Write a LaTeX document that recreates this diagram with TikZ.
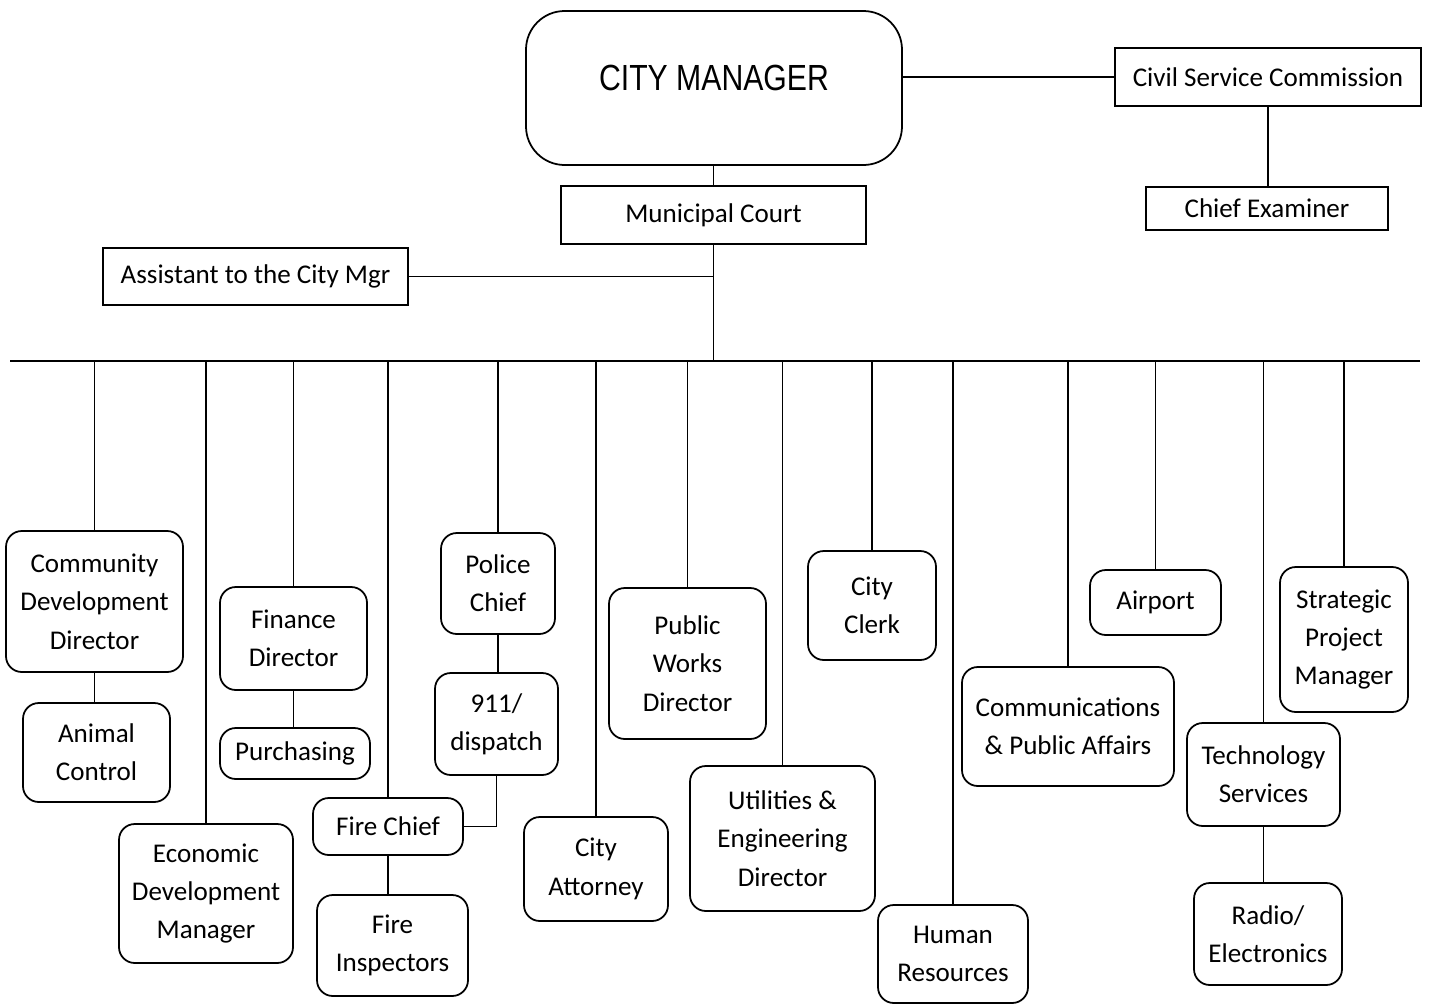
\documentclass[tikz,border=0pt]{standalone}
\usepackage{fontspec}
\setmainfont{Carlito}
\newfontfamily\headfont[FakeStretch=0.83]{Liberation Sans}

\tikzset{
  boxw/.style={minimum width=#1*0.02cm},
  boxh/.style={minimum height=#1*0.02cm},
  plain/.style={draw, align=center, inner sep=2pt, font=\fontsize{15.4}{21.8}\selectfont},
  office/.style={plain, rounded corners=9pt},
  head/.style={draw, rounded corners=22pt, inner sep=2pt, font=\headfont\fontsize{20.7}{24}\selectfont}
}

\begin{document}
\begin{tikzpicture}[x=0.02cm, y=-0.02cm, line width=1pt]
\useasboundingbox (0,0) rectangle (1431,1005);

% top of the chart
\node[head, boxw=376, boxh=154] (cm) at (714,88) {\raisebox{0.4cm}{CITY MANAGER}};
\node[plain, boxw=305, boxh=58] (court) at (713.5,215) {Municipal Court};
\node[plain, boxw=306, boxh=58] (csc) at (1268,77) {Civil Service Commission};
\node[plain, boxw=242, boxh=43] (examiner) at (1267,208.5) {Chief Examiner};
\node[plain, boxw=305, boxh=57] (asst) at (255.5,276.5) {Assistant to the City Mgr};

\draw (court.north |- cm.south) -- (court.north);
\draw (cm.east |- csc.west) -- (csc.west);
\draw (csc.south) -- (csc.south |- examiner.north);
\draw (asst.east) -- (asst.east -| court.south);

% the bus
\coordinate (busL) at (10,361);
\coordinate (busR) at (1420,361);
\draw (busL) -- (busR);
\draw (court.south) -- (court.south |- busL);

% departments
\node[office, boxw=177, boxh=141] (cdd) at (94.5,601.5) {Community\\Development\\Director};
\node[office, boxw=147, boxh=99] (animal) at (96.5,752.5) {Animal\\Control};
\node[office, boxw=174, boxh=139] (econ) at (206,893.5) {Economic\\Development\\Manager};
\node[office, boxw=147, boxh=103] (finance) at (293.5,638.5) {Finance\\Director};
\node[office, boxw=150, boxh=51] (purch) at (295,753.5) {Purchasing};
\node[office, boxw=150, boxh=57] (fire) at (388,826.5) {Fire Chief};
\node[office, boxw=151, boxh=101] (inspect) at (392.5,945.5) {Fire\\Inspectors};
\node[office, boxw=114, boxh=101] (police) at (498,583.5) {Police\\Chief};
\node[office, boxw=123, boxh=102] (dispatch) at (496.5,724) {911/\\dispatch};
\node[office, boxw=144, boxh=104] (attorney) at (596,869) {City\\Attorney};
\node[office, boxw=157, boxh=151] (pw) at (687.5,663.5) {Public\\Works\\Director};
\node[office, boxw=185, boxh=145] (util) at (782.5,838.5) {Utilities \&\\Engineering\\Director};
\node[office, boxw=128, boxh=109] (clerk) at (872,605.5) {City\\Clerk};
\node[office, boxw=150, boxh=98] (hr) at (953,954) {Human\\Resources};
\node[office, boxw=212, boxh=119] (comm) at (1068,726.5) {Communications\\\& Public Affairs};
\node[office, boxw=131, boxh=65] (airport) at (1155.5,602.5) {Airport};
\node[office, boxw=153, boxh=103] (tech) at (1263.5,774.5) {Technology\\Services};
\node[office, boxw=148, boxh=102] (radio) at (1268,934) {Radio/\\Electronics};
\node[office, boxw=128, boxh=145] (spm) at (1344,639.5) {Strategic\\Project\\Manager};

\foreach \n in {cdd,econ,finance,fire,police,attorney,pw,util,clerk,hr,comm,airport,tech,spm}
  \draw (\n.north) -- (\n.north |- busL);

% sub units
\draw (cdd.south) -- (cdd.south |- animal.north);
\draw (finance.south) -- (finance.south |- purch.north);
\draw (fire.south) -- (fire.south |- inspect.north);
\draw (police.south) -- (police.south |- dispatch.north);
\draw (dispatch.south) -- (dispatch.south |- fire.east) -- (fire.east);
\draw (tech.south) -- (tech.south |- radio.north);

\end{tikzpicture}
\end{document}
